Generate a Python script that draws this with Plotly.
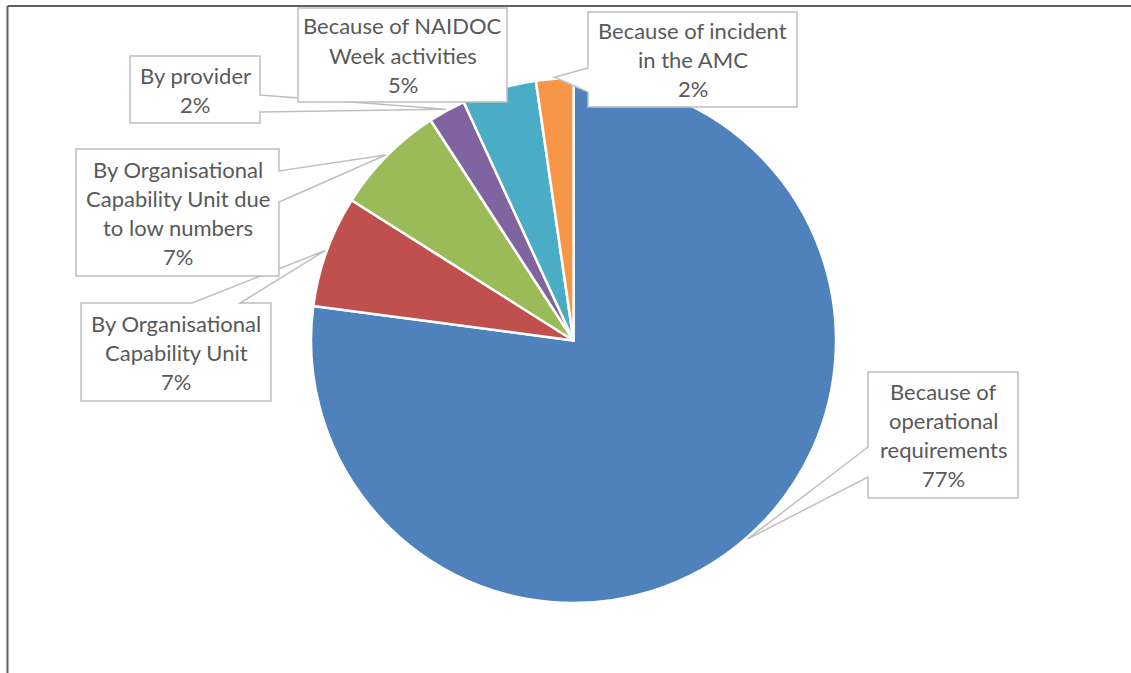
import math
import plotly.graph_objects as go

# ---- data ----
categories = [
    "Because of operational requirements",
    "By Organisational Capability Unit",
    "By Organisational Capability Unit due to low numbers",
    "By provider",
    "Because of NAIDOC Week activities",
    "Because of incident in the AMC",
]
label_lines = [
    ["Because of", "operational", "requirements"],
    ["By Organisational", "Capability Unit"],
    ["By Organisational", "Capability Unit due", "to low numbers"],
    ["By provider"],
    ["Because of NAIDOC", "Week activities"],
    ["Because of incident", "in the AMC"],
]
counts = [101, 9, 9, 3, 6, 3]
colors = ["#4F81BD", "#C0504D", "#9BBB59", "#8064A2", "#4BACC6", "#F79646"]

# ---- layout constants (pixels) ----
W, H = 1131, 673
CX, CY, R = 573.5, 340.5, 262.5
LINE_H = 29
FONT = dict(family="Lato, Open Sans, sans-serif", size=22, color="#595959")

# label boxes: (x0, y0, x1, y1), wedge side, wedge base span
boxes = [
    ((868, 372, 1018, 498), "left", (447, 477)),
    ((81, 303, 271, 401), "top", (192, 240)),
    ((76, 149, 279, 276), "right", (171, 202)),
    ((130, 56, 260, 123), "right", (95, 112)),
    ((298, 8, 507, 102), None, None),
    ((588, 12, 797, 107), "left", (68, 92)),
]


def px(x):
    return x / W


def py(y):
    return 1 - y / H


fig = go.Figure(
    go.Pie(
        labels=categories,
        values=counts,
        marker=dict(colors=colors, line=dict(color="white", width=2.5)),
        sort=False,
        direction="clockwise",
        rotation=0,
        textinfo="none",
        hoverinfo="label+percent",
        showlegend=False,
        domain=dict(x=[px(CX - R), px(CX + R)], y=[py(CY + R), py(CY - R)]),
    )
)

total = sum(counts)
shapes = []
annotations = []

# outer chart frame (only top and left edges are visible)
frame = dict(type="line", xref="paper", yref="paper",
             line=dict(color="#5F5F5F", width=2), layer="above")
shapes.append(dict(frame, x0=px(7.5), x1=1.0, y0=py(6), y1=py(6)))
shapes.append(dict(frame, x0=px(7.5), x1=px(7.5), y0=py(6), y1=0.0))

cum = 0.0
for i, v in enumerate(counts):
    mid = (cum + v / 2) / total * 2 * math.pi
    cum += v
    tipx = CX + (R + 1.5) * math.sin(mid)
    tipy = CY - (R + 1.5) * math.cos(mid)
    (x0, y0, x1, y1), side, span = boxes[i]
    pts = [(x0, y0)]
    if side == "top":
        pts += [(span[0], y0), (tipx, tipy), (span[1], y0)]
    pts.append((x1, y0))
    if side == "right":
        pts += [(x1, span[0]), (tipx, tipy), (x1, span[1])]
    pts.append((x1, y1))
    if side == "bottom":
        pts += [(span[1], y1), (tipx, tipy), (span[0], y1)]
    pts.append((x0, y1))
    if side == "left":
        pts += [(x0, span[1]), (tipx, tipy), (x0, span[0])]
    path = "M " + " L ".join(f"{px(a):.5f},{py(b):.5f}" for a, b in pts) + " Z"
    shapes.append(
        dict(
            type="path",
            xref="paper",
            yref="paper",
            path=path,
            fillcolor="white",
            line=dict(color="#BFBFBF", width=1.5),
            layer="above",
        )
    )
    pct = round(v / total * 100)
    lines = label_lines[i] + [f"{pct}%"]
    cy_box = (y0 + y1) / 2
    n = len(lines)
    for k, t in enumerate(lines):
        ly = cy_box + (k - (n - 1) / 2) * LINE_H
        annotations.append(
            dict(
                x=px((x0 + x1) / 2),
                y=py(ly),
                xref="paper",
                yref="paper",
                text=t,
                showarrow=False,
                xanchor="center",
                yanchor="middle",
                font=FONT,
            )
        )

fig.update_layout(
    width=W,
    height=H,
    margin=dict(l=0, r=0, t=0, b=0),
    paper_bgcolor="white",
    plot_bgcolor="white",
    shapes=shapes,
    annotations=annotations,
)

fig.write_html("out.html")
